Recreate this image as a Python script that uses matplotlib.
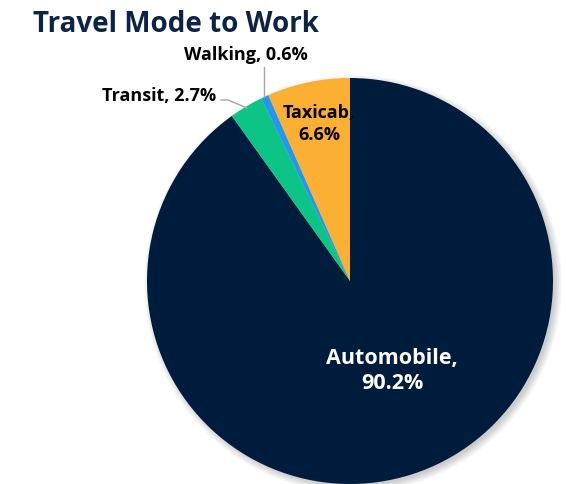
import numpy as np
import matplotlib.pyplot as plt
from matplotlib.patches import Circle

# Share of trips by mode (clockwise from 12 o'clock)
modes = ["Automobile", "Transit", "Walking", "Taxicab"]
shares = [90.2, 2.7, 0.6, 6.6]
colors = ["#001c3d", "#0bc486", "#2196f3", "#fbb034"]

W, H = 566, 484
fig = plt.figure(figsize=(W / 100, H / 100), dpi=100)
ax = fig.add_axes([0, 0, 1, 1])

cx, cy, r = 350, H - 281, 203

# soft shadow under the pie
for k in range(10):
    ax.add_patch(Circle((cx + 3, cy - 3), r + 6 - k * 0.8, color="#000000",
                        alpha=0.02, lw=0, zorder=0))

wedges, _ = ax.pie(shares, colors=colors, startangle=90, counterclock=False,
                   center=(cx, cy), radius=r, frame=True,
                   wedgeprops=dict(linewidth=0))
ax.set_xlim(0, W)
ax.set_ylim(0, H)
ax.set_aspect("equal")
ax.axis("off")

font = ["Open Sans", "DejaVu Sans"]
fig.text(33 / W, 1 - 24 / H, "Travel Mode to Work", fontsize=20, fontweight="bold",
         color="#0b2345", ha="left", va="center", family=font)

ax.text(392, H - 371, f"{modes[0]},\n{shares[0]}%", color="white", fontsize=15.5,
        fontweight="bold", ha="center", va="center", linespacing=1.3, family=font)
ax.text(319, H - 124, f"{modes[3]},\n{shares[3]}%", color="black", fontsize=13,
        fontweight="bold", ha="center", va="center", linespacing=1.25, family=font)
ax.text(216, H - 96, f"{modes[1]}, {shares[1]}%", color="black", fontsize=13,
        fontweight="bold", ha="right", va="center", family=font)
ax.text(246, H - 55, f"{modes[2]}, {shares[2]}%", color="black", fontsize=13,
        fontweight="bold", ha="center", va="center", family=font)

# leader lines
ax.plot([221, 228, 247], [H - 100, H - 100, H - 108], color="#a6a6a6", lw=1)
ax.plot([264, 264], [H - 67, H - 97], color="#a6a6a6", lw=1)

fig.savefig("out.png", dpi=100)
